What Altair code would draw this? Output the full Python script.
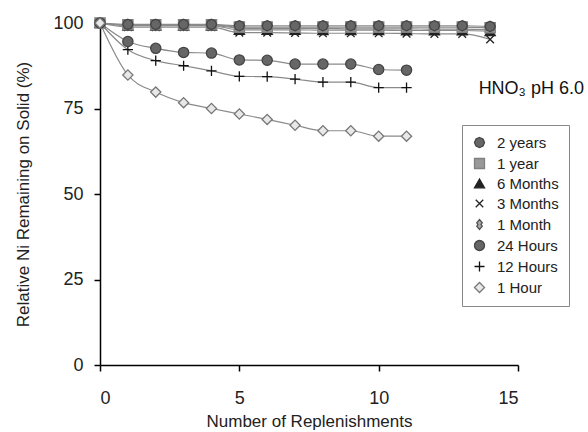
import altair as alt
import pandas as pd

series_names = ["1 Month", "3 Months", "6 Months", "1 year", "2 years", "12 Hours", "24 Hours", "1 Hour"]
legend_order = ["2 years", "1 year", "6 Months", "3 Months", "1 Month", "24 Hours", "12 Hours", "1 Hour"]

x_long = list(range(0, 15))
x_short = list(range(0, 12))

v_2years = [100, 99.6, 99.6, 99.6, 99.6, 99.2, 99.2, 99.2, 99.2, 99.2, 99.2, 99.2, 99.2, 99.2, 99.0]
v_1year = [100, 99.5, 99.5, 99.5, 99.5, 98.8, 98.8, 98.8, 98.8, 98.8, 98.8, 98.8, 98.8, 98.8, 98.6]
v_6months = [100, 99.2, 99.2, 99.2, 99.2, 98.0, 98.0, 98.0, 97.9, 97.9, 97.9, 97.8, 97.8, 97.8, 97.6]
v_3months = [100, 98.8, 98.8, 98.8, 98.8, 97.2, 97.2, 97.1, 97.0, 97.0, 97.0, 96.9, 96.8, 96.8, 95.2]
v_1month = [100, 99.3, 99.3, 99.3, 99.3, 98.5, 98.4, 98.4, 98.4, 98.3, 98.3, 98.3, 98.2, 98.2, 98.0]
v_24hours = [100, 94.6, 92.6, 91.4, 91.2, 89.2, 89.1, 88.0, 88.0, 88.0, 86.4, 86.2]
v_12hours = [100, 92.2, 89.0, 87.5, 86.0, 84.4, 84.3, 83.6, 82.7, 82.7, 81.1, 81.1]
v_1hour = [100, 84.8, 79.8, 76.7, 75.0, 73.4, 71.8, 70.1, 68.5, 68.5, 66.9, 66.9]

values = {
    "1 Month": (x_long, v_1month),
    "3 Months": (x_long, v_3months),
    "6 Months": (x_long, v_6months),
    "1 year": (x_long, v_1year),
    "2 years": (x_long, v_2years),
    "12 Hours": (x_short, v_12hours),
    "24 Hours": (x_short, v_24hours),
    "1 Hour": (x_short, v_1hour),
}

rows = []
i = 0
for s in series_names:
    xs, ys = values[s]
    for xv, yv in zip(xs, ys):
        rows.append({"series": s, "n": xv, "value": yv, "ord": i})
        i += 1
df = pd.DataFrame(rows)

hexagon = "M0,-1L0.7,-0.7L1,0L0.7,0.7L0,1L-0.7,0.7L-1,0L-0.7,-0.7Z"
xmark = "M-0.75,-0.75L0.75,0.75M0.75,-0.75L-0.75,0.75"
plus = "M-1,0L1,0M0,-1L0,1"
month = "M0,-1L0.55,-0.35L0.3,0L0.55,0.35L0,1L-0.55,0.35L-0.3,0L-0.55,-0.35Z"

shape_map = {
    "2 years": hexagon, "1 year": "square", "6 Months": "triangle-up",
    "3 Months": xmark, "1 Month": month, "24 Hours": "circle",
    "12 Hours": plus, "1 Hour": "diamond",
}
fill_map = {
    "2 years": "#666666", "1 year": "#999999", "6 Months": "#222222",
    "3 Months": "#222222", "1 Month": "#aaaaaa", "24 Hours": "#666666",
    "12 Hours": "#111111", "1 Hour": "#e8e8e8",
}
stroke_map = {
    "2 years": "#444444", "1 year": "#808080", "6 Months": "#222222",
    "3 Months": "#222222", "1 Month": "#555555", "24 Hours": "#444444",
    "12 Hours": "#111111", "1 Hour": "#777777",
}

dom = legend_order
leg = alt.Legend(
    title=None, orient="none", legendX=362, legendY=102,
    labelFont="Liberation Sans", labelFontSize=15, labelColor="#222222",
    symbolSize=100, symbolStrokeWidth=1.3, rowPadding=4,
    strokeColor="#888888", padding=10, labelOffset=10,
)

x_enc = alt.X("n:Q", scale=alt.Scale(domain=[0, 15], nice=False),
              axis=alt.Axis(values=[0, 5, 10, 15], title="Number of Replenishments",
                            labelPadding=18, titlePadding=6))
y_enc = alt.Y("value:Q", scale=alt.Scale(domain=[0, 100], nice=False),
              axis=alt.Axis(values=[0, 25, 50, 75, 100], title="Relative Ni Remaining on Solid (%)",
                            labelPadding=11, titlePadding=20))

lines = alt.Chart(df).mark_line(interpolate="monotone", color="#8a8a8a", strokeWidth=1.2).encode(
    x=x_enc, y=y_enc, detail="series:N", order="n:Q"
)

points = alt.Chart(df).mark_point(filled=True, size=105, strokeWidth=1.3, opacity=1).encode(
    x="n:Q", y="value:Q",
    shape=alt.Shape("series:N", scale=alt.Scale(domain=dom, range=[shape_map[s] for s in dom]), legend=leg),
    fill=alt.Fill("series:N", scale=alt.Scale(domain=dom, range=[fill_map[s] for s in dom]), legend=leg),
    stroke=alt.Stroke("series:N", scale=alt.Scale(domain=dom, range=[stroke_map[s] for s in dom]), legend=leg),
    order="ord:Q",
)

chart = alt.layer(lines, points).properties(
    width=418, height=342,
    title=alt.TitleParams("HNO₃ pH 6.0", anchor="end", frame="group", dx=66, dy=88,
                          font="Liberation Sans", fontSize=18, fontWeight="normal", color="#111111"),
    autosize=alt.AutoSizeParams(type="none"),
    padding={"left": 100, "top": 23, "right": 70, "bottom": 67},
).configure_view(stroke=None).configure_axis(
    domainColor="#000000", domainWidth=1.5, tickColor="#000000", tickWidth=1.5, tickSize=6,
    labelFont="Liberation Sans", labelFontSize=18, labelColor="#222222",
    titleFont="Liberation Sans", titleFontSize=17, titleFontWeight="normal", titleColor="#222222",
    grid=False,
)

chart.save("out.html", embed_options={"renderer": "svg", "actions": False})
